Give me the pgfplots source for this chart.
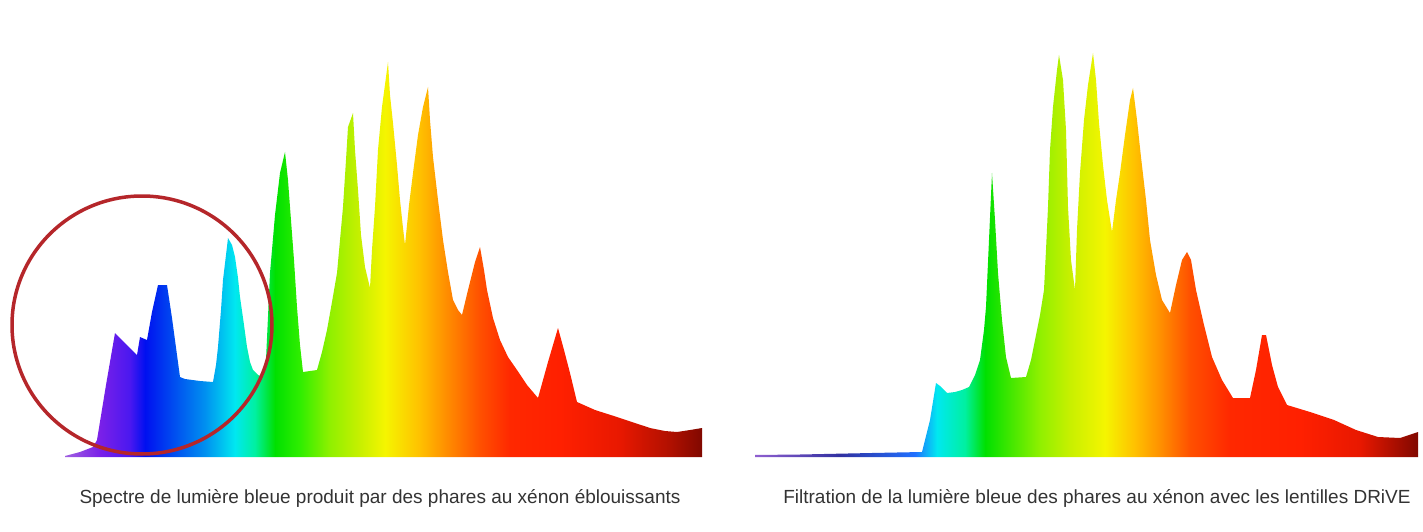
\documentclass[border=0pt]{standalone}
\usepackage{fontspec}
\setmainfont{Liberation Sans}
\usepackage{pgfplots}
\pgfplotsset{compat=1.18}
\usepackage{pgfplotstable}

\definecolor{sA}{HTML}{A060E0}
\definecolor{sB}{HTML}{7A20E8}
\definecolor{sC}{HTML}{4A18F0}
\definecolor{sD}{HTML}{0010F0}
\definecolor{sE}{HTML}{0050F0}
\definecolor{sF}{HTML}{0090F0}
\definecolor{sG}{HTML}{00E8F0}
\definecolor{sH}{HTML}{00F0A0}
\definecolor{sI}{HTML}{00E000}
\definecolor{sJ}{HTML}{30EE00}
\definecolor{sK}{HTML}{90F000}
\definecolor{sL}{HTML}{C8F000}
\definecolor{sM}{HTML}{F5F500}
\definecolor{sN}{HTML}{FFC000}
\definecolor{sO}{HTML}{FF9000}
\definecolor{sP}{HTML}{FF5000}
\definecolor{sQ}{HTML}{FF2800}
\definecolor{sR}{HTML}{FF2000}
\definecolor{sS}{HTML}{E81800}
\definecolor{sT}{HTML}{B01000}
\definecolor{sU}{HTML}{800800}
\definecolor{rA}{HTML}{9060D0}
\definecolor{rB}{HTML}{3030A0}
\definecolor{rC}{HTML}{2070FF}
\definecolor{circ}{HTML}{B5262A}

\pgfdeclarehorizontalshading{leftspec}{100bp}{
color(0bp)=(sA); color(25bp)=(sA); color(27.75bp)=(sB); color(30.1bp)=(sC);
color(31.28bp)=(sD); color(33.63bp)=(sE); color(35.99bp)=(sF); color(38.34bp)=(sG);
color(39.91bp)=(sH); color(41.48bp)=(sI); color(43.45bp)=(sJ); color(45.8bp)=(sK);
color(48.16bp)=(sL); color(50.12bp)=(sM); color(52.87bp)=(sN); color(54.83bp)=(sO);
color(57.58bp)=(sP); color(59.93bp)=(sQ); color(63.85bp)=(sR); color(68.56bp)=(sS);
color(72.49bp)=(sT); color(75bp)=(sU); color(100bp)=(sU)}

\pgfdeclarehorizontalshading{rightspec}{100bp}{
color(0bp)=(rA); color(25bp)=(rA); color(31.41bp)=(rB); color(37.07bp)=(rC);
color(38.73bp)=(sG); color(40.84bp)=(sH); color(42.35bp)=(sI); color(46.49bp)=(sK);
color(48.76bp)=(sL); color(51.4bp)=(sM); color(53.66bp)=(sN); color(55.54bp)=(sO);
color(57.81bp)=(sP); color(60.82bp)=(sQ); color(66.1bp)=(sR); color(70.63bp)=(sS);
color(75bp)=(sU); color(100bp)=(sU)}

\pgfplotstableread{
x y
65 456
80 452
93 447
97 440
106 385
115 333
126 344
137 355
140 337
147 340
152 312
158 285
167 285
172 318
180 377
185 379
200 381
213 382
216 365
218 347
221 310
223 280
226 255
228 238
232 245
235 257
238 278
240 297
244 325
247 347
250 362
253 370
258 375
263 377
266 360
270 273
275 215
280 173
285 152
288 180
290 207
294 260
297 307
300 345
303 372
310 371
317 370
322 352
327 330
332 302
337 273
340 240
343 207
346 160
348 127
353 113
355 150
358 190
361 235
365 267
370 288
372 250
375 207
378 150
382 107
388 62
390 95
393 123
397 165
400 200
403 228
405 245
409 205
413 173
418 135
423 107
428 87
430 120
433 157
438 200
443 240
448 272
453 300
458 310
462 315
468 290
475 262
480 247
484 270
487 290
493 318
500 340
508 357
517 370
527 385
538 398
548 362
558 328
564 350
570 373
577 402
595 410
617 417
635 423
650 428
665 431
677 432
690 430
702 428
702 457
65 457
}\leftdata

\pgfplotstableread{
x y
755 455
800 454.5
872 453
922 452
930 420
936 383
940 386
947 393
955 392
962 390
969 387
975 375
980 360
984 330
986 307
989 240
992 173
995 220
998 273
1002 320
1006 357
1011 378
1026 377
1031 360
1035 340
1040 315
1044 290
1046 250
1048 207
1050 150
1053 107
1057 70
1059 55
1063 80
1066 130
1068 207
1071 260
1075 290
1077 230
1080 173
1084 120
1088 85
1093 53
1096 80
1099 123
1103 165
1107 200
1112 232
1116 200
1120 173
1125 135
1130 100
1133 88
1137 120
1141 157
1146 200
1150 240
1156 275
1162 300
1170 313
1176 285
1182 260
1187 252
1191 260
1196 290
1204 325
1212 357
1222 380
1233 398
1250 398
1256 370
1262 335
1266 335
1272 365
1278 387
1287 405
1310 412
1334 420
1356 430
1378 437
1400 438
1418 432
1418 457
755 457
}\rightdata

\begin{document}
\begin{tikzpicture}
\begin{axis}[
  scale only axis, width=1423bp, height=532bp,
  xmin=0, xmax=1423, ymin=0, ymax=532, y dir=reverse,
  hide axis, clip=false]
\path[draw=none] (rel axis cs:0,0) rectangle (rel axis cs:1,1);
\addplot[draw=none, shade, shading=leftspec] table[x=x,y=y] {\leftdata};
\addplot[draw=none, shade, shading=rightspec] table[x=x,y=y] {\rightdata};
\draw[circ, line width=3.5bp] (axis cs:142,325) ellipse [x radius=130bp, y radius=129bp];
\node[text=black!80, font=\fontsize{19bp}{22bp}\selectfont] at (axis cs:380,498) {Spectre de lumière bleue produit par des phares au xénon éblouissants};
\node[text=black!80, font=\fontsize{19bp}{22bp}\selectfont] at (axis cs:1097,498) {Filtration de la lumière bleue des phares au xénon avec les lentilles DRiVE};
\end{axis}
\end{tikzpicture}
\end{document}
